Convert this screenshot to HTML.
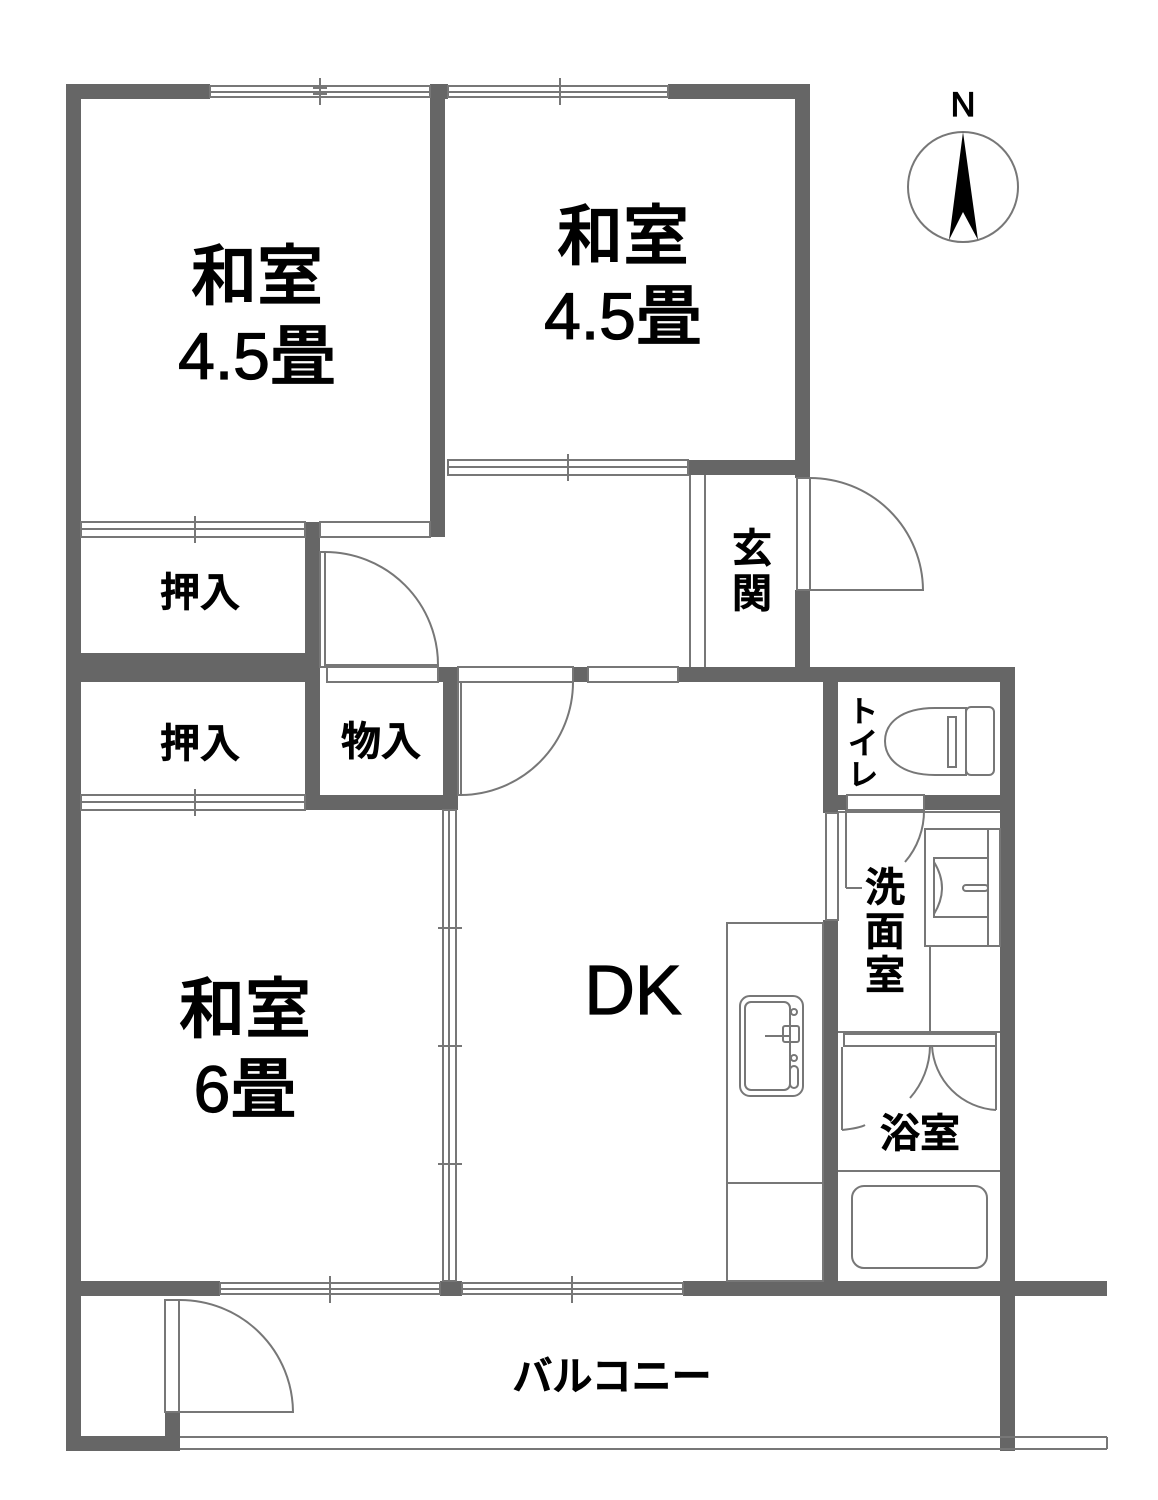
<!DOCTYPE html>
<html><head><meta charset="utf-8"><style>
html,body{margin:0;padding:0;background:#fff;}
svg{display:block;}
text{font-family:"Liberation Sans","Noto Sans CJK JP",sans-serif;fill:#000;}
.lb{stroke:#000;stroke-width:1.2px;font-weight:500;}
</style></head><body>
<svg width="1158" height="1500" viewBox="0 0 1158 1500" xmlns="http://www.w3.org/2000/svg">
<g fill="#666">
<rect x="66" y="84" width="15" height="1367"/>
<rect x="66" y="84" width="144" height="15"/>
<rect x="430" y="84" width="18" height="15"/>
<rect x="668" y="84" width="142" height="15"/>
<rect x="430" y="84" width="15" height="453"/>
<rect x="795" y="84" width="15" height="394"/>
<rect x="795" y="590" width="15" height="92"/>
<rect x="688" y="460" width="122" height="15"/>
<rect x="305" y="522" width="15" height="288"/>
<rect x="66" y="653" width="254" height="29"/>
<rect x="438" y="667" width="20" height="15"/>
<rect x="573" y="667" width="15" height="15"/>
<rect x="678" y="667" width="337" height="15"/>
<rect x="443" y="667" width="15" height="143"/>
<rect x="305" y="795" width="153" height="15"/>
<rect x="823" y="667" width="15" height="146"/>
<rect x="823" y="920" width="15" height="376"/>
<rect x="1000" y="667" width="15" height="784"/>
<rect x="924" y="795" width="91" height="15"/>
<rect x="838" y="795" width="9" height="15"/>
<rect x="66" y="1281" width="154" height="15"/>
<rect x="440" y="1281" width="22" height="15"/>
<rect x="683" y="1281" width="424" height="15"/>
<rect x="66" y="1436" width="114" height="15"/>
<rect x="165" y="1412" width="15" height="39"/>
</g>

<g fill="none" stroke="#777" stroke-width="2">
<rect x="210" y="86" width="220" height="11"/><line x1="210" y1="92" x2="430" y2="92"/>
<line x1="320" y1="78" x2="320" y2="105"/><line x1="313" y1="88" x2="327" y2="88"/><line x1="313" y1="94" x2="327" y2="94"/>
<rect x="448" y="86" width="220" height="11"/><line x1="448" y1="92" x2="668" y2="92"/>
<line x1="560" y1="78" x2="560" y2="105"/>
<rect x="448" y="460" width="240" height="15"/><line x1="448" y1="467" x2="688" y2="467"/>
<line x1="568" y1="454" x2="568" y2="481"/>
<rect x="81" y="522" width="224" height="15"/><line x1="81" y1="529" x2="305" y2="529"/>
<line x1="195" y1="516" x2="195" y2="543"/>
<rect x="320" y="522" width="110" height="15"/>
<rect x="81" y="795" width="224" height="15"/><line x1="81" y1="802" x2="305" y2="802"/>
<line x1="195" y1="789" x2="195" y2="816"/>
<rect x="327" y="667" width="111" height="15"/>
<rect x="458" y="667" width="115" height="15"/>
<rect x="588" y="667" width="90" height="15"/>
<rect x="320" y="552" width="5" height="115"/>
<path d="M325 552 A113 113 0 0 1 438 665 L325 665"/>
<rect x="458" y="682" width="3" height="113"/>
<path d="M461 795 A113 113 0 0 0 573 682"/>
<line x1="690" y1="475" x2="690" y2="667"/><line x1="705" y1="475" x2="705" y2="667"/>
<rect x="797" y="478" width="13" height="112"/>
<path d="M810 478 A113 113 0 0 1 923 590 L810 590"/>
<rect x="443" y="810" width="13" height="471"/><line x1="449" y1="810" x2="449" y2="1281"/>
<line x1="438" y1="928" x2="462" y2="928"/><line x1="438" y1="1046" x2="462" y2="1046"/><line x1="438" y1="1164" x2="462" y2="1164"/>
<rect x="220" y="1283" width="220" height="11"/><line x1="220" y1="1289" x2="440" y2="1289"/>
<line x1="330" y1="1276" x2="330" y2="1303"/>
<rect x="462" y="1283" width="221" height="11"/><line x1="462" y1="1289" x2="683" y2="1289"/>
<line x1="572" y1="1276" x2="572" y2="1303"/>
<rect x="165" y="1300" width="14" height="112"/>
<path d="M180 1300 A113 113 0 0 1 293 1412 L180 1412"/>
<line x1="180" y1="1437" x2="1107" y2="1437"/><line x1="180" y1="1449" x2="1107" y2="1449"/>
<line x1="1107" y1="1437" x2="1107" y2="1449"/>
<rect x="727" y="923" width="96" height="358"/><line x1="727" y1="1183" x2="823" y2="1183"/>
<rect x="740" y="996" width="63" height="100" rx="10"/>
<rect x="745" y="1002" width="45" height="88" rx="6"/>
<line x1="765" y1="1036" x2="790" y2="1036"/><rect x="783" y="1026" width="16" height="16" rx="2"/>
<circle cx="794" cy="1012" r="3"/><circle cx="794" cy="1058" r="3"/><rect x="790" y="1066" width="8" height="22" rx="4"/>
<path d="M935 708 H966 V775 H935 C900 775 885 758 885 741 C885 724 900 708 935 708Z"/>
<rect x="948" y="717" width="8" height="50"/>
<rect x="966" y="707" width="28" height="68" rx="5"/>
<rect x="847" y="795" width="77" height="15"/>
<path d="M924 810 A78 78 0 0 1 905 862"/>
<line x1="846" y1="810" x2="846" y2="888"/><path d="M846 888 L862 888"/>
<rect x="826" y="813" width="12" height="107"/><line x1="838" y1="813" x2="838" y2="920"/>
<line x1="838" y1="812" x2="1000" y2="812"/>
<rect x="925" y="829" width="75" height="117"/>
<line x1="988" y1="829" x2="988" y2="946"/>
<rect x="934" y="858" width="54" height="59"/>
<path d="M934 862 Q950 888 934 914"/>
<rect x="963" y="885" width="25" height="6" rx="3"/>
<line x1="930" y1="946" x2="930" y2="1032"/>
<line x1="838" y1="1032" x2="1000" y2="1032"/>
<rect x="844" y="1034" width="152" height="12"/>
<line x1="842" y1="1047" x2="842" y2="1130"/>
<path d="M930 1046 A80 80 0 0 1 910 1098"/><path d="M842 1130 Q860 1128 865 1125"/>
<path d="M932 1046 A68 68 0 0 0 996 1110"/><line x1="996" y1="1046" x2="996" y2="1110"/>
<line x1="838" y1="1171" x2="1000" y2="1171"/>
<rect x="852" y="1186" width="135" height="82" rx="12"/>
<circle cx="963" cy="187" r="55"/>
</g>
<polygon points="963,132 949,240 963,212 978,240" fill="#000"/>

<text x="963" y="116" font-size="34" text-anchor="middle" class="lb">N</text>
<g font-size="66" text-anchor="middle" class="lb">
<text x="257" y="299">和室</text><text x="257" y="379">4.5畳</text>
<text x="623" y="259">和室</text><text x="623" y="339">4.5畳</text>
<text x="245" y="1032">和室</text><text x="245" y="1112">6畳</text>
</g>
<text x="633" y="1014" font-size="70" text-anchor="middle" class="lb">DK</text>
<g font-size="40" text-anchor="middle" class="lb">
<text x="200" y="606">押入</text>
<text x="200" y="757">押入</text>
<text x="381" y="755">物入</text>
<text x="752" y="562">玄</text><text x="752" y="607">関</text>
<text x="885" y="901">洗</text><text x="885" y="945">面</text><text x="885" y="989">室</text>
<text x="920" y="1147">浴室</text>
<text x="612" y="1390">バルコニー</text>
</g>
<g font-size="30" text-anchor="middle" class="lb" style="stroke-width:0.8px">
<text x="863" y="722">ト</text><text x="863" y="754">イ</text><text x="863" y="785">レ</text>
</g>
</svg>
</body></html>
